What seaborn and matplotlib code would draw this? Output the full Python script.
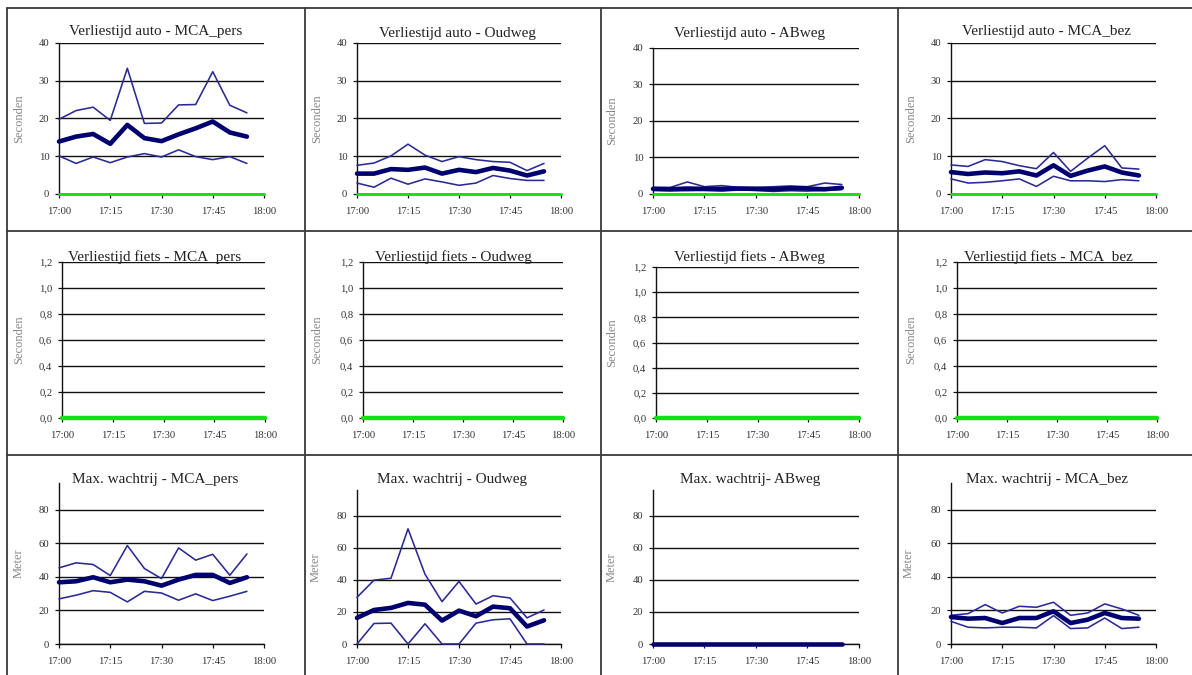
import matplotlib
matplotlib.use("Agg")
import matplotlib.pyplot as plt
import seaborn as sns
import pandas as pd
from matplotlib.lines import Line2D

# ---------------- data ----------------
times = ["17:00", "17:05", "17:10", "17:15", "17:20", "17:25",
         "17:30", "17:35", "17:40", "17:45", "17:50", "17:55"]
xtick_labels = ["17:00", "17:15", "17:30", "17:45", "18:00"]

auto_ticks = [0, 10, 20, 30, 40]
auto_tick_labels = ["0", "10", "20", "30", "40"]
fiets_ticks = [0.0, 0.2, 0.4, 0.6, 0.8, 1.0, 1.2]
fiets_tick_labels = ["0,0", "0,2", "0,4", "0,6", "0,8", "1,0", "1,2"]
wacht_ticks = [0, 20, 40, 60, 80]
wacht_tick_labels = ["0", "20", "40", "60", "80"]

titles_auto = ["Verliestijd auto - MCA_pers", "Verliestijd auto - Oudweg",
               "Verliestijd auto - ABweg", "Verliestijd auto - MCA_bez"]
titles_fiets = ["Verliestijd fiets - MCA_pers", "Verliestijd fiets - Oudweg",
                "Verliestijd fiets - ABweg", "Verliestijd fiets - MCA_bez"]
titles_wacht = ["Max. wachtrij - MCA_pers", "Max. wachtrij - Oudweg",
                "Max. wachtrij- ABweg", "Max. wachtrij - MCA_bez"]

# Verliestijd auto (seconden): max / gemiddeld / min
auto_mcapers_max = [19.8, 22.1, 23.0, 19.5, 33.3, 18.7, 18.8, 23.6, 23.7, 32.4, 23.5, 21.5]
auto_mcapers_gem = [13.9, 15.2, 15.9, 13.3, 18.3, 14.8, 14.0, 15.8, 17.4, 19.2, 16.3, 15.2]
auto_mcapers_min = [10.1, 8.1, 9.8, 8.3, 9.8, 10.7, 9.8, 11.7, 9.9, 9.1, 9.9, 8.1]

auto_oudweg_max = [7.6, 8.2, 10.1, 13.2, 10.3, 8.6, 9.9, 9.1, 8.6, 8.4, 6.2, 8.1]
auto_oudweg_gem = [5.4, 5.4, 6.6, 6.4, 7.0, 5.4, 6.4, 5.8, 6.9, 6.2, 4.9, 6.0]
auto_oudweg_min = [2.9, 1.8, 4.2, 2.6, 4.0, 3.2, 2.3, 2.9, 4.9, 4.1, 3.6, 3.6]

auto_abweg_max = [1.8, 1.8, 3.3, 2.0, 2.3, 1.8, 1.8, 2.0, 2.2, 2.0, 3.0, 2.6]
auto_abweg_gem = [1.4, 1.3, 1.5, 1.4, 1.4, 1.5, 1.4, 1.3, 1.6, 1.5, 1.3, 1.7]
auto_abweg_min = [1.0, 0.9, 0.9, 1.0, 0.8, 1.1, 1.0, 0.7, 0.9, 0.8, 1.0, 1.2]

auto_mcabez_max = [7.7, 7.3, 9.1, 8.6, 7.5, 6.7, 11.0, 6.0, 9.5, 12.8, 6.9, 6.6]
auto_mcabez_gem = [5.8, 5.3, 5.7, 5.5, 6.0, 4.9, 7.6, 4.8, 6.2, 7.3, 5.7, 4.9]
auto_mcabez_min = [4.0, 2.9, 3.1, 3.5, 4.0, 2.0, 4.7, 3.5, 3.5, 3.3, 3.8, 3.5]

# Max. wachtrij (meter): max / gemiddeld / min
wacht_mcapers_max = [45.4, 48.4, 47.4, 40.8, 58.7, 45.0, 39.0, 57.3, 50.0, 53.5, 41.0, 53.7]
wacht_mcapers_gem = [36.8, 37.4, 39.8, 36.8, 38.4, 37.4, 34.8, 38.4, 41.2, 41.2, 36.4, 39.8]
wacht_mcapers_min = [26.9, 29.1, 31.8, 30.8, 25.1, 31.4, 30.4, 26.1, 29.9, 25.9, 28.5, 31.4]

wacht_oudweg_max = [29.1, 39.8, 41.0, 71.8, 43.5, 26.4, 39.0, 24.9, 30.1, 28.7, 16.3, 21.2]
wacht_oudweg_gem = [16.3, 21.2, 22.5, 25.6, 24.5, 14.6, 20.8, 17.3, 23.3, 22.3, 10.9, 14.8]
wacht_oudweg_min = [0.0, 12.8, 13.0, 0.0, 12.6, 0.0, 0.0, 13.0, 15.1, 15.7, 0.0, 0.0]

wacht_abweg_max = [0, 0, 0, 0, 0, 0, 0, 0, 0, 0, 0, 0]
wacht_abweg_gem = [0, 0, 0, 0, 0, 0, 0, 0, 0, 0, 0, 0]
wacht_abweg_min = [0, 0, 0, 0, 0, 0, 0, 0, 0, 0, 0, 0]

wacht_mcabez_max = [17.1, 18.1, 23.5, 18.5, 22.5, 21.9, 24.9, 17.1, 18.5, 23.9, 20.9, 17.1]
wacht_mcabez_gem = [16.1, 15.1, 15.5, 12.5, 15.5, 15.5, 19.5, 12.5, 14.5, 18.5, 15.5, 15.1]
wacht_mcabez_min = [13.5, 10.0, 9.6, 10.0, 10.0, 9.6, 16.9, 9.2, 9.6, 15.5, 9.2, 10.0]

# ---------------- style ----------------
sns.set_theme(style="white")
plt.rcParams["font.family"] = ["Liberation Serif", "DejaVu Serif"]

W, H = 1192, 675
fig = plt.figure(figsize=(W / 100, H / 100), dpi=100)
fig.patch.set_facecolor("white")

NAVY = "#00006e"
THIN = "#2a2a94"
GREEN = "#12e012"


def minutes(t):
    h, m = t.split(":")
    return (int(h) - 17) * 60 + int(m)


x_min = [minutes(t) for t in times]
x_ticks = [minutes(t) for t in xtick_labels]


def px_axes(l, t, r, b):
    return fig.add_axes([l / W, 1 - b / H, (r - l) / W, (b - t) / H])


def style_axes(ax, l, t, r, b, ylim, yticks, ylabels, ylabel, ylab_x, green_lw):
    ax.set_facecolor("white")
    ax.set_xlim(0, 60)
    ax.set_ylim(*ylim)
    ax.set_xticks(x_ticks)
    ax.set_xticklabels(xtick_labels)
    ax.set_yticks(yticks)
    ax.set_yticklabels(ylabels)
    ax.yaxis.grid(True, color="#111111", lw=1.0)
    ax.xaxis.grid(False)
    for s in ("top", "right"):
        ax.spines[s].set_visible(False)
    for s in ("left", "bottom"):
        ax.spines[s].set_color("#111111")
        ax.spines[s].set_linewidth(1.0)
    ax.tick_params(axis="both", direction="out", length=3, width=0.9,
                   color="#111111", labelsize=7.7, labelcolor="#333333")
    ax.tick_params(axis="x", pad=6.5, bottom=True)
    ax.tick_params(axis="y", pad=4, left=True)
    ax.set_xlabel("")
    ax.set_ylabel(ylabel, fontsize=9, color="#888888")
    ax.yaxis.set_label_coords((ylab_x - l) / (r - l), 0.5)
    if green_lw:
        ax.axhline(0, color=GREEN, lw=green_lw, zorder=3, clip_on=False)


def draw_series(ax, mx, gem, mn):
    df = pd.DataFrame({"t": x_min, "max": mx, "gem": gem, "min": mn})
    sns.lineplot(data=df, x="t", y="max", ax=ax, color=THIN, lw=1.15,
                 zorder=4, clip_on=False)
    sns.lineplot(data=df, x="t", y="min", ax=ax, color=THIN, lw=1.15,
                 zorder=4, clip_on=False)
    sns.lineplot(data=df, x="t", y="gem", ax=ax, color=NAVY, lw=3.3,
                 zorder=5, clip_on=False)


# layout in pixels: (left, top, right, bottom), title centre (x, y), ylabel x
row_auto = [((59, 43, 264, 194), (156, 32), 25),
            ((357, 43, 561, 194), (457, 33), 323),
            ((653, 48, 859, 194), (749, 33), 618),
            ((951, 43, 1156, 194), (1046, 32), 917)]
row_fiets = [((62, 262, 265, 418), (155, 257), 25),
             ((363, 262, 563, 418), (453, 257), 323),
             ((656, 267, 859, 418), (749, 257), 618),
             ((957, 262, 1157, 418), (1048, 257), 917)]
row_wacht = [((59, 483, 264, 644), (155, 479), 25),
             ((357, 490, 561, 644), (452, 479), 322),
             ((653, 490, 859, 644), (750, 479), 618),
             ((951, 483, 1156, 644), (1047, 479), 915)]

auto_data = [(auto_mcapers_max, auto_mcapers_gem, auto_mcapers_min),
             (auto_oudweg_max, auto_oudweg_gem, auto_oudweg_min),
             (auto_abweg_max, auto_abweg_gem, auto_abweg_min),
             (auto_mcabez_max, auto_mcabez_gem, auto_mcabez_min)]
wacht_data = [(wacht_mcapers_max, wacht_mcapers_gem, wacht_mcapers_min),
              (wacht_oudweg_max, wacht_oudweg_gem, wacht_oudweg_min),
              (wacht_abweg_max, wacht_abweg_gem, wacht_abweg_min),
              (wacht_mcabez_max, wacht_mcabez_gem, wacht_mcabez_min)]

TITLE_KW = dict(fontsize=11, color="#222222", ha="center", va="center")

for i, ((l, t, r, b), (tx, ty), ylx) in enumerate(row_auto):
    ax = px_axes(l, t, r, b)
    style_axes(ax, l, t, r, b, (0, 40), auto_ticks, auto_tick_labels,
               "Seconden", ylx, 2.0)
    draw_series(ax, *auto_data[i])
    ax.set_xlabel("")
    ax.set_ylabel("Seconden", fontsize=9, color="#888888")
    fig.text(tx / W, 1 - ty / H, titles_auto[i], **TITLE_KW)

for i, ((l, t, r, b), (tx, ty), ylx) in enumerate(row_fiets):
    ax = px_axes(l, t, r, b)
    style_axes(ax, l, t, r, b, (0, 1.2), fiets_ticks, fiets_tick_labels,
               "Seconden", ylx, 3.2)
    fig.text(tx / W, 1 - ty / H, titles_fiets[i], **TITLE_KW)

for i, ((l, t, r, b), (tx, ty), ylx) in enumerate(row_wacht):
    ax = px_axes(l, t, r, b)
    style_axes(ax, l, t, r, b, (0, 96), wacht_ticks, wacht_tick_labels,
               "Meter", ylx, 0)
    draw_series(ax, *wacht_data[i])
    ax.set_xlabel("")
    ax.set_ylabel("Meter", fontsize=9, color="#888888")
    fig.text(tx / W, 1 - ty / H, titles_wacht[i], **TITLE_KW)

# table cell borders
BORDER = dict(color="#3a3a3a", lw=1.3, transform=fig.transFigure)
for xb in (7, 305, 601, 898):
    fig.add_artist(Line2D([xb / W, xb / W], [1 - 8 / H, 0], **BORDER))
for yb in (8, 231, 455):
    fig.add_artist(Line2D([7 / W, 1], [1 - yb / H, 1 - yb / H], **BORDER))

fig.savefig("out.png", dpi=100, facecolor="white")
